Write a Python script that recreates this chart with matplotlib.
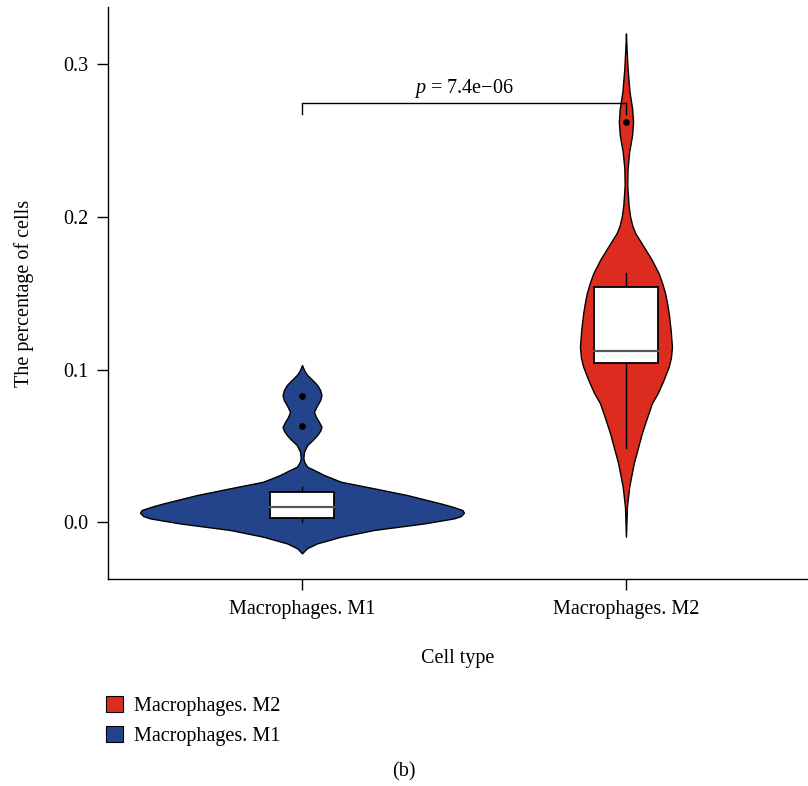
import matplotlib
matplotlib.use("Agg")
import matplotlib.pyplot as plt
from matplotlib.patches import Patch

plt.rcParams['font.family'] = ['Liberation Serif', 'DejaVu Serif']
plt.rcParams['mathtext.fontset'] = 'custom'
plt.rcParams['mathtext.it'] = 'Liberation Serif:italic'
plt.rcParams['mathtext.rm'] = 'Liberation Serif'

categories = ["Macrophages. M1", "Macrophages. M2"]
colors = ["#23448a", "#dc2c20"]

# violin outlines: value -> half width
m1_y = [-0.0203, -0.0170, -0.0138, -0.0094, -0.0050, -0.0007, 0.0026, 0.0041,
        0.0063, 0.0081, 0.0102, 0.0124, 0.0179, 0.0223, 0.0266, 0.0310, 0.0343,
        0.0364, 0.0395, 0.0419, 0.0462, 0.0506, 0.0540, 0.0572, 0.0600, 0.0626,
        0.0659, 0.0690, 0.0724, 0.0768, 0.0800, 0.0834, 0.0866, 0.0899, 0.0930,
        0.0965, 0.0990, 0.1030]
m1_w = [0.0, 0.015, 0.046, 0.120, 0.222, 0.377, 0.469, 0.490,
        0.500, 0.495, 0.465, 0.428, 0.324, 0.222, 0.120, 0.068, 0.037,
        0.016, 0.007, 0.004, 0.006, 0.016, 0.033, 0.047, 0.056, 0.060,
        0.052, 0.043, 0.037, 0.047, 0.056, 0.060, 0.056, 0.047, 0.033,
        0.016, 0.008, 0.0]

m2_y = [-0.0094, 0.0102, 0.0233, 0.0386, 0.0480, 0.0583, 0.0680, 0.0779, 0.0850,
        0.0932, 0.1019, 0.1080, 0.1150, 0.1260, 0.1369, 0.1435, 0.1500, 0.1565,
        0.1631, 0.1718, 0.1760, 0.1805, 0.1893, 0.1940, 0.2001, 0.2078, 0.2209,
        0.2318, 0.2427, 0.2536, 0.2623, 0.2711, 0.2820, 0.2973, 0.3100, 0.3202]
m2_w = [0.0, 0.003, 0.010, 0.024, 0.036, 0.049, 0.064, 0.080, 0.099,
        0.116, 0.132, 0.139, 0.142, 0.138, 0.132, 0.127, 0.121, 0.112,
        0.101, 0.080, 0.068, 0.055, 0.029, 0.020, 0.013, 0.008, 0.004,
        0.005, 0.010, 0.019, 0.022, 0.019, 0.011, 0.005, 0.002, 0.0]

# box stats: whisker low, q1, median, q3, whisker high
box_stats = [
    [0.0, 0.0030, 0.0102, 0.0200, 0.0233],
    [0.0489, 0.1041, 0.1124, 0.1543, 0.1635],
]
outliers = [[0.0829, 0.0633], [0.262]]

p_text = "$p$ = 7.4e\u221206"
p_y = 0.2748
p_drop = 0.2674

fig = plt.figure(figsize=(8.08, 7.86), dpi=100)
ax = fig.add_axes([108 / 808, 1 - 579 / 786, 1 - 108 / 808, 572 / 786])

profiles = [(m1_y, m1_w), (m2_y, m2_w)]
for i, (yy, ww) in enumerate(profiles):
    x = i + 1
    left = [x - w for w in ww]
    right = [x + w for w in ww]
    ax.fill_betweenx(yy, left, right, facecolor=colors[i], edgecolor="black",
                     linewidth=1.0, joinstyle="round", zorder=2)

    lo, q1, med, q3, hi = box_stats[i]
    bw = 0.1
    ax.plot([x, x], [lo, q1], color="black", lw=1.0, zorder=3)
    ax.plot([x, x], [q3, hi], color="black", lw=1.0, zorder=3)
    ax.add_patch(plt.Rectangle((x - bw, q1), 2 * bw, q3 - q1, facecolor="white",
                               edgecolor="black", lw=1.3, zorder=4))
    ax.plot([x - bw, x + bw], [med, med], color="#555555", lw=1.6, zorder=5)
    ax.plot([x] * len(outliers[i]), outliers[i], "o", color="black",
            markersize=3.8, zorder=6)

# significance bracket
ax.plot([1, 1, 2, 2], [p_drop, p_y, p_y, p_drop], color="black", lw=1.0, zorder=6)
ax.text(1.5, p_y + 0.0015, p_text, ha="center", va="bottom", fontsize=14.5)

ax.set_xlim(0.401, 2.562)
ax.set_ylim(-0.0371, 0.3375)
ax.set_xticks([1, 2])
ax.set_xticklabels(categories)
ax.set_yticks([0.0, 0.1, 0.2, 0.3])
ax.set_yticklabels(["0.0", "0.1", "0.2", "0.3"])
ax.tick_params(direction="out", length=8, width=1, labelsize=14.5, colors="black")
ax.tick_params(axis="x", pad=7)
ax.tick_params(axis="y", pad=6)
for s in ["top", "right"]:
    ax.spines[s].set_visible(False)
for s in ["left", "bottom"]:
    ax.spines[s].set_linewidth(1.0)

ax.set_xlabel("Cell type", fontsize=14.5, labelpad=22)
ax.set_ylabel("The percentage of cells", fontsize=14.5, labelpad=21)

handles = [Patch(facecolor=colors[1], edgecolor="black", lw=0.8),
           Patch(facecolor=colors[0], edgecolor="black", lw=0.8)]
fig.legend(handles, [categories[1], categories[0]], loc="upper left",
           bbox_to_anchor=(106 / 808, 1 - 696 / 786), frameon=False,
           fontsize=14.5, handlelength=0.85, handleheight=0.85,
           handletextpad=0.55, labelspacing=0.5, borderpad=0, borderaxespad=0)

fig.text(404 / 808, 1 - 772 / 786, "(b)", ha="center", va="center", fontsize=14.5)

fig.savefig("out.png", dpi=100)
